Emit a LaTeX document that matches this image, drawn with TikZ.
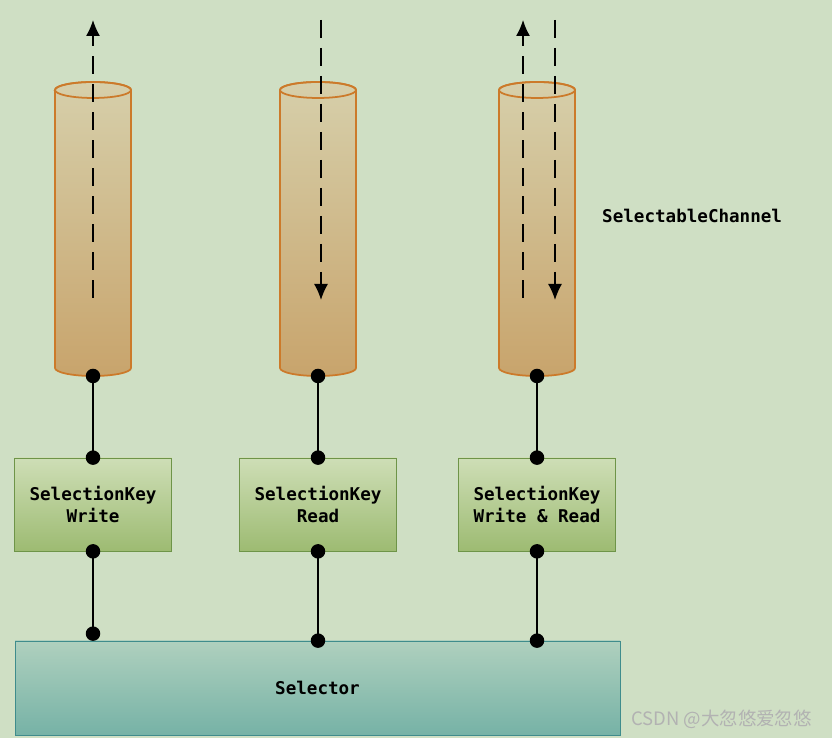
\documentclass[tikz,border=0pt]{standalone}
\usepackage{fontspec}
\setmonofont{DejaVu Sans Mono}
\newfontfamily\cjkfont{Noto Sans CJK SC}
\usetikzlibrary{arrows.meta,positioning}
\definecolor{Backdrop}{HTML}{CFDFC4}
\definecolor{ChanTop}{HTML}{D6CFAA}
\definecolor{ChanBot}{HTML}{C8A46C}
\definecolor{ChanEdge}{HTML}{CC7A2A}
\definecolor{KeyTop}{HTML}{CEDEB6}
\definecolor{KeyBot}{HTML}{9DBB72}
\definecolor{KeyEdge}{HTML}{6E9448}
\definecolor{SelTop}{HTML}{AFD0BE}
\definecolor{SelBot}{HTML}{76B2A6}
\definecolor{SelEdge}{HTML}{3F8C8C}

\begin{document}
\begin{tikzpicture}[
    font=\ttfamily\bfseries\fontsize{10}{12.4}\selectfont,
    channel/.style={
      draw=ChanEdge,
      line width=1pt,
      top color=ChanTop,
      bottom color=ChanBot
    },
    keybox/.style={
      minimum width=3.14cm,
      minimum height=1.86cm,
      draw=KeyEdge,
      top color=KeyTop,
      bottom color=KeyBot,
      align=center
    },
    selbox/.style={
      minimum width=12.1cm,
      minimum height=1.88cm,
      draw=SelEdge,
      top color=SelTop,
      bottom color=SelBot
    },
    wire/.style={draw=black, thick},
    dot/.style={circle, fill=black, inner sep=0pt, minimum size=0.29cm},
    flow/.style={-{Latex[length=3.2mm,width=2.8mm]}, draw=black, line width=0.8pt,
      dash pattern=on 0.36cm off 0.2cm}
  ]
    \fill[Backdrop] (0,0) rectangle (16.64,14.76);
    \useasboundingbox (0,0) rectangle (16.64,14.76);

    % channels
    \foreach \cx/\nm in {1.86/chanW, 6.36/chanR, 10.74/chanRW} {
      \shade[channel] (\cx-0.76,12.96) -- (\cx-0.76,7.4)
        arc[start angle=180, end angle=360, x radius=0.76cm, y radius=0.16cm]
        -- (\cx+0.76,12.96)
        arc[start angle=0, end angle=180, x radius=0.76cm, y radius=0.16cm] -- cycle;
      \draw[ChanEdge, line width=1pt] (\cx,12.96) ellipse[x radius=0.76cm, y radius=0.16cm];
      \coordinate (\nm) at (\cx,7.24);
    }
    \node[anchor=west] (chanlabel) at (11.92,10.44) {SelectableChannel};

    % selection keys
    \node[keybox] (keyW) at (1.86,4.67) {SelectionKey\\Write};
    \node[keybox] (keyR) at (6.36,4.67) {SelectionKey\\Read};
    \node[keybox] (keyRW) at (10.74,4.67) {SelectionKey\\Write \& Read};

    % selector
    \node[selbox] (sel) at (6.35,1.0) {Selector};

    % data flow
    \coordinate (upW0) at (1.86,8.8);
    \coordinate (upW1) at (1.86,14.36);
    \coordinate (dnR0) at (6.42,14.36);
    \coordinate (dnR1) at (6.42,8.76);
    \coordinate (upRW0) at (10.46,8.8);
    \coordinate (upRW1) at (10.46,14.36);
    \coordinate (dnRW0) at (11.1,14.36);
    \coordinate (dnRW1) at (11.1,8.76);
    \draw[flow] (upW0) -- (upW1);
    \draw[flow] (dnR0) -- (dnR1);
    \draw[flow] (upRW0) -- (upRW1);
    \draw[flow] (dnRW0) -- (dnRW1);

    % wiring
    \draw[wire] (chanW) -- (keyW.north);
    \draw[wire] (chanR) -- (keyR.north);
    \draw[wire] (chanRW) -- (keyRW.north);
    \draw[wire] (keyW.south) -- ([yshift=0.14cm]keyW.south |- sel.north);
    \draw[wire] (keyR.south) -- (keyR.south |- sel.north);
    \draw[wire] (keyRW.south) -- (keyRW.south |- sel.north);

    \node[dot] at (chanW) {};
    \node[dot] at (chanR) {};
    \node[dot] at (chanRW) {};
    \node[dot] at (keyW.north) {};
    \node[dot] at (keyR.north) {};
    \node[dot] at (keyRW.north) {};
    \node[dot] at (keyW.south) {};
    \node[dot] at (keyR.south) {};
    \node[dot] at (keyRW.south) {};
    \node[dot] at ([yshift=0.14cm]keyW.south |- sel.north) {};
    \node[dot] at (keyR.south |- sel.north) {};
    \node[dot] at (keyRW.south |- sel.north) {};

    \node[anchor=east, font=\cjkfont\fontsize{10.5}{12}\selectfont, text=white!40!gray]
      (mark) at (16.36,0.38) {CSDN @大忽悠爱忽悠};
  \end{tikzpicture}
\end{document}
